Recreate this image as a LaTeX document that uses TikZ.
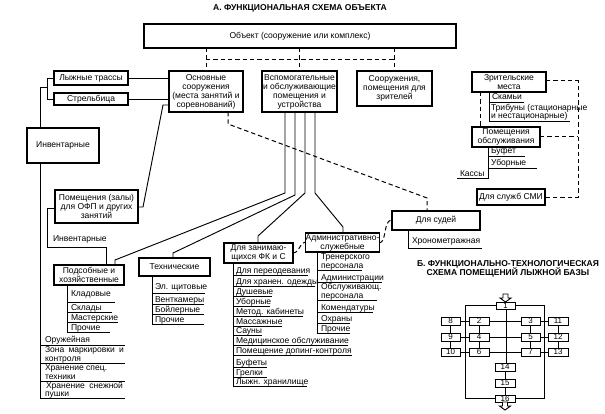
\documentclass[tikz,border=0pt]{standalone}
\usepackage{fontspec}
\setmainfont{Liberation Sans}
\newcommand\fs{\fontsize{6.4}{6.75}\selectfont}
\newcommand\fsn{\fontsize{6}{6.5}\selectfont}
\newcommand\bx[6]{\node[box,minimum width={(#4-#2)*0.75pt},minimum height={(#5-#3)*0.75pt}] (#1) at ({(#2+#4)/2},{(#3+#5)/2}) {#6};}
\newcommand\nbx[6]{\node[nb,minimum width={(#4-#2)*0.75pt},minimum height={(#5-#3)*0.75pt}] (#1) at ({(#2+#4)/2},{(#3+#5)/2}) {#6};}
\newcommand\li[4]{\node[itm] (#1) at (#2,#3) {#4};}
\newcommand\harrow[2]{\draw[ln,fill=white] (#1-2.5,#2) -- (#1+2.5,#2) -- (#1+2.5,#2+4) -- (#1+5.5,#2+4) -- (#1,#2+8) -- (#1-5.5,#2+4) -- (#1-2.5,#2+4) -- cycle;}
\begin{document}
\begin{tikzpicture}[x=0.75pt,y=-0.75pt,
 every node/.style={inner sep=0pt,outer sep=0pt,font=\fs},
 box/.style={draw,line width=1.05pt,align=center},
 nb/.style={draw,line width=0.75pt,font=\fsn},
 ln/.style={line width=0.7pt},
 dsh/.style={line width=0.75pt,dash pattern=on 3.3pt off 2.2pt},
 itm/.style={anchor=base west},
 ul/.style={line width=0.6pt},
 hd/.style={font=\fs\bfseries,anchor=base}]
\useasboundingbox (0,0) rectangle (605,413);
\fill[white] (0,0) rectangle (605,413);

% ---------- A ----------
\node[hd] (tA) at (300,11) {А. ФУНКЦИОНАЛЬНАЯ СХЕМА ОБЪЕКТА};
\bx{obj}{144}{24}{456}{48}{Объект (сооружение или комплекс)}
\bx{osn}{169}{71}{243}{112}{Основные\\сооружения\\(места занятий и\\соревнований)}
\bx{vsp}{262}{71}{337}{112}{Вспомогательные\\и обслуживающие\\помещения и\\устройства}
\bx{soor}{357}{71}{432}{106}{Сооружения,\\помещения для\\зрителей}
\bx{lyzh}{54}{71}{128}{85}{Лыжные трассы}
\bx{strel}{54}{93}{128}{105}{Стрельбица}
\bx{inv}{27}{128}{99}{163}{Инвентарные}
\bx{pom}{55}{190}{138}{223}{Помещения (залы)\\для ОФП и других\\занятий}
\bx{pods}{54}{265}{124}{285}{Подсобные и\\хозяйственные}
\bx{tech}{139}{258}{210}{276}{Технические}
\bx{zan}{224}{243}{293}{263}{Для занимаю-\\щихся ФК и С}
\bx{adm}{307}{233}{378}{252}{Административно-\\служебные}
\bx{sud}{392}{211}{480}{230}{Для судей}
\bx{zr}{472}{72}{546}{92}{Зрительские\\места}
\bx{pob}{472}{127}{540}{147}{Помещения\\обслуживания}
\bx{smi}{477}{189}{545}{205}{Для служб СМИ}

% dashed links to the object
\draw[dsh] (obj.south -| osn.north) -- (osn.north);
\draw[dsh] (obj.south -| vsp.north) -- (vsp.north);
\draw[dsh] (obj.south -| soor.north) -- (soor.north);
\draw[dsh] (osn.north |- 0,60) -- (soor.north |- 0,60);

% left connectors
\draw[ln] (lyzh.east) -- (osn.west |- lyzh.east);
\draw[ln] (strel.east) -- (osn.west |- strel.east);
\draw[ln] (lyzh.west) -- (47,78) -- (47,99) -- (strel.west);
\draw[ln] (47,87) -- (40,87) -- (inv.north -| 40,0);
\draw[ln] (osn.west |- 0,105) -- (163,105) -- (143,207) -- (pom.east |- 0,207);
\draw[ln] (pom.west |- 0,208) -- (47,208) -- (47,247) -- (106,247) -- (pods.north -| 106,0);
\node[itm] (inv2) at (53,241) {Инвентарные};
\draw[ln] (inv.south -| 40,0) -- (40,398);

% fan from vsp
\draw[ln] (vsp.south -| 285,0) -- (285,193) -- (115,260) -- (pods.north -| 115,0);
\draw[ln] (vsp.south -| 295,0) -- (295,195) -- (173,253) -- (tech.north -| 173,0);
\draw[ln] (vsp.south -| 305,0) -- (305,193) -- (258,236) -- (zan.north -| 258,0);
\draw[ln] (vsp.south -| 315,0) -- (315,193) -- (343,227) -- (adm.north -| 343,0);

% dashed links
\draw[dsh] (osn.south -| 228,0) -- (228,124) -- (427,198) -- (sud.north -| 427,0);
\draw[dsh] (zan.east |- 0,253) .. controls (301,252) and (299,242) .. (adm.west |- 0,242);
\draw[dsh] (adm.east |- 0,243) .. controls (387,242) and (383,220) .. (sud.west |- 0,220);
\draw[dsh] (zr.east |- 0,81) -- (578,81) -- (578,197) -- (smi.east |- 0,197);
\draw[dsh] (pob.east |- 0,137) -- (578,137);
\draw[dsh] (zr.south -| 480,0) -- (pob.north -| 480,0);

% left list
\li{a1}{45}{342}{Оружейная}
\draw[ul] (40,345) -- (125,345);
\li{a2}{45}{352.5}{\makebox[59.25pt][s]{Зона маркировки и}}
\li{a2b}{45}{361}{контроля}
\draw[ul] (40,363) -- (125,363);
\li{a3}{45}{370.5}{Хранение спец.}
\li{a3b}{45}{379}{техники}
\draw[ul] (40,381) -- (125,381);
\li{a4}{46}{388.5}{\makebox[57.75pt][s]{Хранение снежной}}
\li{a4b}{45}{396.5}{пушки}
\draw[ul] (40,398) -- (125,398);

% pods list
\draw[ln] (pods.south -| 67,0) -- (67,332);
\li{p1}{71}{296}{Кладовые}
\draw[ul] (67,302) -- (115,302);
\li{p2}{71}{310}{Склады}
\draw[ul] (67,312) -- (112,312);
\li{p3}{71}{320}{Мастерские}
\draw[ul] (67,322) -- (118,322);
\li{p4}{71}{330}{Прочие}
\draw[ul] (67,332) -- (110,332);

% tech list
\draw[ln] (tech.south -| 152,0) -- (152,324);
\li{t1}{155}{289}{Эл. щитовые}
\draw[ul] (152,293) -- (205,293);
\li{t2}{155}{302}{Венткамеры}
\draw[ul] (152,304) -- (204,304);
\li{t3}{155}{312}{Бойлерные}
\draw[ul] (152,314) -- (204,314);
\li{t4}{155}{322}{Прочие}
\draw[ul] (152,324) -- (204,324);

% zan list
\draw[ln] (zan.south -| 233,0) -- (233,386);
\li{z1}{236}{273}{Для переодевания}
\draw[ul] (233,275) -- (308,275);
\li{z2}{236}{284}{Для хранен. одежды}
\draw[ul] (233,286) -- (315,286);
\li{z3}{236}{294}{Душевые}
\draw[ul] (233,296) -- (272,296);
\li{z4}{236}{304}{Уборные}
\draw[ul] (233,306) -- (270,306);
\li{z5}{236}{314}{Метод. кабинеты}
\draw[ul] (233,316) -- (303,316);
\li{z6}{236}{324}{Массажные}
\draw[ul] (233,326) -- (282,326);
\li{z7}{236}{333}{Сауны}
\draw[ul] (233,335) -- (262,335);
\li{z8}{236}{343}{Медицинское обслуживание}
\draw[ul] (233,345) -- (348,345);
\li{z9}{236}{353}{Помещение допинг-контроля}
\draw[ul] (233,355) -- (352,355);
\li{z10}{236}{365}{Буфеты}
\draw[ul] (233,367) -- (267,367);
\li{z11}{236}{375}{Грелки}
\draw[ul] (233,377) -- (267,377);
\li{z12}{236}{384}{Лыжн. хранилище}
\draw[ul] (233,386) -- (307,386);

% adm list
\draw[ln] (adm.south -| 317,0) -- (317,333);
\li{d1}{321}{259}{Тренерского}
\li{d1b}{321}{268}{персонала}
\draw[ul] (317,270) -- (362,270);
\li{d2}{321}{280}{Администрации}
\draw[ul] (317,282) -- (382,282);
\li{d3}{321}{289}{Обслуживающ.}
\li{d3b}{321}{298}{персонала}
\draw[ul] (317,300) -- (377,300);
\li{d4}{321}{310}{Комендатуры}
\draw[ul] (317,312) -- (373,312);
\li{d5}{321}{321}{Охраны}
\draw[ul] (317,323) -- (350,323);
\li{d6}{321}{331}{Прочие}
\draw[ul] (317,333) -- (350,333);

% sud list
\draw[ln] (sud.south -| 408,0) -- (408,248) -- (482,248);
\li{s1}{412}{243.5}{Хронометражная}

% spectators lists
\draw[ln] (zr.south -| 489,0) -- (489,121);
\li{r1}{492}{100}{Скамьи}
\draw[ul] (489,102) -- (524,102);
\li{r2}{491}{110.5}{Трибуны (стационарные}
\li{r2b}{491}{119}{и нестационарные)}
\draw[ul] (489,121) -- (570,121);
\draw[ln] (pob.south -| 488,0) -- (488,178) -- (457,178);
\li{b1}{491}{154}{Буфет}
\draw[ul] (488,156) -- (525,156);
\li{b2}{491}{166}{Уборные}
\draw[ul] (488,168) -- (537,168);
\li{b3}{460}{176}{Кассы}

% ---------- B ----------
\node[hd] (tB1) at (508,266.5) {Б. ФУНКЦИОНАЛЬНО-ТЕХНОЛОГИЧЕСКАЯ};
\node[hd] (tB2) at (508,275) {СХЕМА ПОМЕЩЕНИЙ ЛЫЖНОЙ БАЗЫ};
\nbx{n1}{496}{302}{515}{309}{1}
\nbx{n2}{469}{317}{489}{325}{2}
\nbx{n3}{521}{317}{540}{325}{3}
\nbx{n4}{469}{333}{489}{341}{4}
\nbx{n5}{521}{333}{540}{341}{5}
\nbx{n6}{469}{348}{489}{356}{6}
\nbx{n7}{521}{348}{540}{356}{7}
\nbx{n8}{441}{317}{460}{325}{8}
\nbx{n9}{441}{333}{460}{341}{9}
\nbx{n10}{441}{348}{460}{356}{10}
\nbx{n11}{548}{317}{568}{325}{11}
\nbx{n12}{548}{333}{568}{341}{12}
\nbx{n13}{548}{348}{568}{356}{13}
\nbx{n14}{495}{363}{515}{371}{14}
\nbx{n15}{495}{379}{515}{387}{15}
\nbx{n16}{495}{395}{515}{402}{16}
\draw[ln] (n1.west) -- (465,305.5) -- (465,398.5) -- (n16.west);
\draw[ln] (n1.east) -- (544,305.5) -- (544,398.5) -- (n16.east);
\draw[ln] (n1.south -| 506,0) -- (n14.north -| 506,0);
\draw[ln] (n14) -- (n15);
\draw[ln] (n15) -- (n16);
\foreach \a/\b in {n8/n2,n2/n3,n3/n11,n9/n4,n4/n5,n5/n12,n10/n6,n6/n7,n7/n13}
  \draw[ln] (\a.east) -- (\b.west);
\foreach \a/\b in {n8/n9,n9/n10,n2/n4,n4/n6,n3/n5,n5/n7,n11/n12,n12/n13}
  \draw[ln] (\a.south) -- (\b.north);
\harrow{505.5}{294}
\harrow{505}{402}
\end{tikzpicture}
\end{document}
